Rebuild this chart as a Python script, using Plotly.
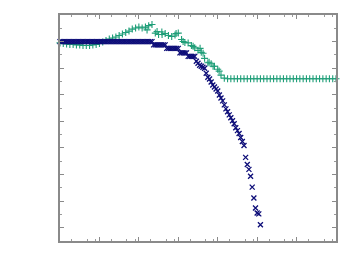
import plotly.graph_objects as go

# ---- data (x given as log10 exponents, y in axis units) ----
navy_logx = [
    0.0, 0.042, 0.083, 0.125, 0.167, 0.208, 0.25, 0.292, 0.333, 0.375, 0.417, 0.458,
    0.5, 0.542, 0.583, 0.625, 0.667, 0.708, 0.75, 0.792, 0.833, 0.875, 0.917, 0.958,
    1.0, 1.042, 1.083, 1.125, 1.167, 1.208, 1.25, 1.292, 1.333, 1.375, 1.417, 1.458,
    1.5, 1.542, 1.583, 1.625, 1.667, 1.708, 1.75, 1.792, 1.833, 1.875, 1.917, 1.958,
    2.0, 2.042, 2.083, 2.125, 2.167, 2.208, 2.25, 2.292, 2.333, 2.375, 2.417, 2.458,
    2.5, 2.542, 2.583, 2.625, 2.667, 2.708, 2.75, 2.792, 2.833, 2.875, 2.917, 2.958,
    3.0, 3.042, 3.083, 3.125, 3.167, 3.208, 3.25, 3.292, 3.333, 3.375, 3.417, 3.458,
    3.5, 3.542, 3.583, 3.625, 3.667, 3.708, 3.75, 3.792, 3.833, 3.875, 3.917, 3.958,
    4.0, 4.042, 4.083, 4.125, 4.167, 4.208, 4.25, 4.292, 4.333, 4.375, 4.417, 4.458,
    4.5, 4.542, 4.583, 4.625, 4.667, 4.708, 4.75, 4.792, 4.833, 4.875, 4.917, 4.958,
    5.0, 5.042, 5.083,
]
navy_y = [
    15.0, 15.0, 15.0, 15.0, 15.0, 15.0, 15.0, 15.0, 15.0, 15.0, 15.0, 15.0,
    15.0, 15.0, 15.0, 15.0, 15.0, 15.0, 15.0, 15.0, 15.0, 15.0, 15.0, 15.0,
    15.0, 15.0, 15.0, 15.0, 15.0, 15.0, 15.0, 15.0, 15.0, 15.0, 15.0, 15.0,
    15.0, 15.0, 15.0, 15.0, 15.0, 15.0, 15.0, 15.0, 15.0, 15.0, 15.0, 15.0,
    15.0, 15.0, 15.0, 15.0, 15.0, 15.0, 15.0, 15.0, 15.0,
    14.75, 14.75, 14.75, 14.75, 14.75, 14.75, 14.75, 14.75,
    14.49, 14.49, 14.49, 14.49, 14.49, 14.49, 14.49, 14.49,
    14.15, 14.15, 14.15, 14.15, 14.15,
    13.89, 13.89, 13.89, 13.89, 13.89,
    13.52, 13.37, 13.22, 13.14, 13.07, 13.0, 12.62, 12.32, 12.18, 11.96,
    11.73, 11.58, 11.43, 11.28, 10.98, 10.76, 10.54, 10.24, 9.94, 9.72,
    9.49, 9.27, 9.05, 8.82, 8.52, 8.30, 8.08, 7.78, 7.48, 7.18,
    6.29, 5.76, 5.39, 4.87, 4.05, 3.23, 2.48, 2.11, 2.04, 1.22,
]

green_logx = [
    0.0, 0.083, 0.167, 0.25, 0.333, 0.417, 0.5, 0.583, 0.667, 0.75, 0.833, 0.917,
    1.0, 1.083, 1.167, 1.25, 1.333, 1.417, 1.5, 1.583, 1.667, 1.75, 1.833, 1.917,
    2.0, 2.083, 2.167, 2.25, 2.333, 2.417, 2.5, 2.583, 2.667, 2.75, 2.833, 2.917,
    3.0, 3.083, 3.167, 3.25, 3.333, 3.417, 3.5, 3.583, 3.667, 3.75, 3.833, 3.917,
    4.0, 4.083, 4.167, 4.25, 4.333, 4.417, 4.5, 4.583, 4.667, 4.75, 4.833, 4.917,
    5.0, 5.083, 5.167, 5.25, 5.333, 5.417, 5.5, 5.583, 5.667, 5.75, 5.833, 5.917,
    6.0, 6.083, 6.167, 6.25, 6.333, 6.417, 6.5, 6.583, 6.667, 6.75, 6.833, 6.917,
    7.0,
    # extra scattered readings
    2.208, 2.462, 2.589, 2.944, 3.122, 3.376, 3.553, 3.629, 3.782, 3.883, 4.036,
]
green_y = [
    14.90, 14.86, 14.82, 14.79, 14.79, 14.75, 14.75, 14.71, 14.71, 14.71, 14.75, 14.79,
    14.86, 14.97, 15.09, 15.20, 15.27, 15.35, 15.46, 15.57, 15.68, 15.79, 15.94, 16.02,
    16.09, 16.02, 16.09, 16.20, 16.28, 15.64, 15.53, 15.72, 15.60, 15.46, 15.38, 15.50,
    15.64, 15.16, 14.94, 14.90, 14.71, 14.53, 14.34, 14.19, 13.74, 13.41, 13.33, 13.15,
    12.92, 12.48, 12.25, 12.20, 12.20, 12.20, 12.20, 12.20, 12.20, 12.20, 12.20, 12.20,
    12.20, 12.20, 12.20, 12.20, 12.20, 12.20, 12.20, 12.20, 12.20, 12.20, 12.20, 12.20,
    12.20, 12.20, 12.20, 12.20, 12.20, 12.20, 12.20, 12.20, 12.20, 12.20, 12.20, 12.20,
    12.20,
    15.88, 15.76, 15.53, 15.61, 15.01, 14.64, 14.49, 14.12, 13.45, 13.15, 12.78,
]

minor_x_ticks = [m * 10 ** d for d in range(7) for m in (2, 5, 8)]

navy_x = [10 ** v for v in navy_logx]
green_x = [10 ** v for v in green_logx]

fig = go.Figure()
fig.add_trace(go.Scatter(
    x=green_x, y=green_y, mode="markers", cliponaxis=False,
    marker=dict(symbol="cross-thin", size=5, color="rgba(0,0,0,0)",
                line=dict(color="#1f9e78", width=1.1)),
))
fig.add_trace(go.Scatter(
    x=navy_x, y=navy_y, mode="markers", cliponaxis=False,
    marker=dict(symbol="x-thin", size=5, color="rgba(0,0,0,0)",
                line=dict(color="#0d0d78", width=1.3)),
))

axis_common = dict(
    showgrid=False, zeroline=False, showticklabels=False,
    showline=True, linecolor="#8a8a8a", linewidth=1.5, mirror="ticks",
    ticks="inside", tickcolor="#8a8a8a", ticklen=4, tickwidth=1,
)
fig.update_xaxes(
    type="log", range=[0, 7], dtick=1,
    minor=dict(tickmode="array", tickvals=minor_x_ticks, ticks="inside",
               ticklen=2.5, tickcolor="#9a9a9a", tickwidth=1),
    **axis_common,
)
fig.update_yaxes(
    range=[0, 17], tick0=1, dtick=2,
    minor=dict(dtick=1, ticks="inside", ticklen=2.5, tickcolor="#9a9a9a", tickwidth=1),
    **axis_common,
)
fig.update_layout(
    width=346, height=267,
    margin=dict(l=52, r=18, t=5, b=34),
    paper_bgcolor="white", plot_bgcolor="white",
    showlegend=False,
)
fig.write_html("out.html")
